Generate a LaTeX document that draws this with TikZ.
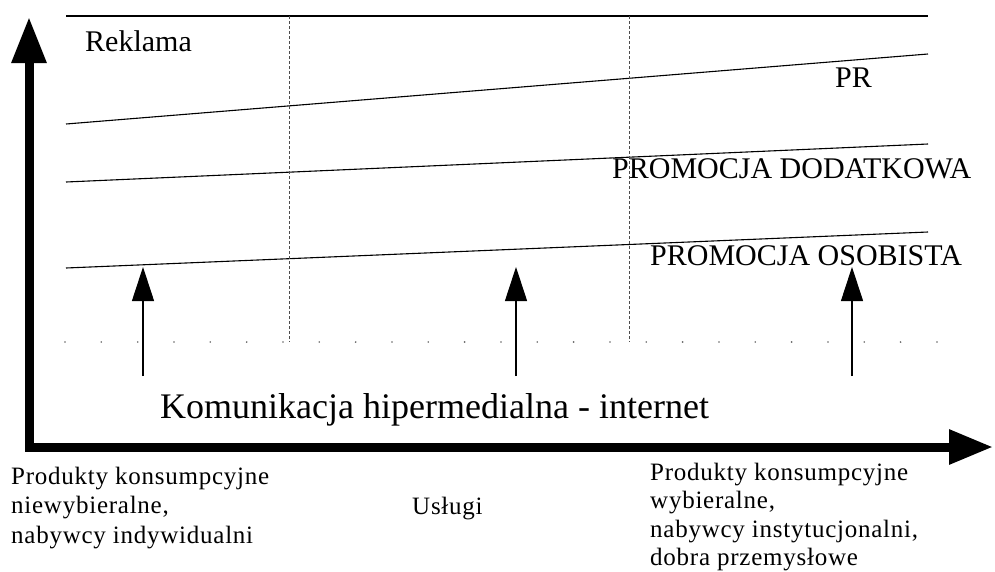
\documentclass[tikz,border=0pt]{standalone}
\usepackage{fontspec}
\setmainfont{Liberation Serif}
\newfontfamily\spacedfont{Liberation Serif}[LetterSpace=3]
\usetikzlibrary{arrows.meta}
\newcommand{\labellines}[1]{\begin{tabular}[t]{@{}l@{}}#1\end{tabular}}
\begin{document}
\begin{tikzpicture}[x=1pt,y=-1pt,
  axis/.style={line width=9pt,line join=miter,
    {Triangle[length=46pt,width=33pt]}-{Triangle[length=44pt,width=33pt]}},
  band/.style={line width=1.1pt},
  divider/.style={line width=1pt,black!70,dash pattern=on 3pt off 2pt},
  channel/.style={line width=1.1pt,-{Triangle[length=34pt,width=22pt]}},
  tool/.style={font=\fontsize{30}{30}\selectfont,inner sep=0pt,anchor=base west},
  axislabel/.style={font=\spacedfont\fontsize{25}{29.5}\selectfont,inner sep=0pt,
    anchor=base west}]
\useasboundingbox (0,0) rectangle (995,571);

% axes
\coordinate (ytip) at (29,17);
\coordinate (origin) at (29,447);
\coordinate (xtip) at (993,447);
\draw[axis] (ytip) -- (origin) -- (xtip);

% band boundaries
\coordinate (t0l) at (66,16);  \coordinate (t0r) at (928,16);
\coordinate (t1l) at (66,124); \coordinate (t1r) at (928,54);
\coordinate (t2l) at (66,182); \coordinate (t2r) at (928,144);
\coordinate (t3l) at (66,268); \coordinate (t3r) at (928,232);
\draw[band] (t0l) -- (t0r);
\draw[band] (t1l) -- (t1r);
\draw[band] (t2l) -- (t2r);
\draw[band] (t3l) -- (t3r);

% segment dividers
\coordinate (d1t) at (289,16);  \coordinate (d1b) at (289,342);
\coordinate (d2t) at (629,16);  \coordinate (d2b) at (629,342);
\draw[divider] (d1t) -- (d1b);
\draw[divider] (d2t) -- (d2b);

% dotted row
\foreach \i in {0,...,24}
  \fill[black!60] (65+36.33*\i,342) circle (0.9pt);

% internet channels
\coordinate (a1b) at (143,376); \coordinate (a1t) at (143,267);
\coordinate (a2b) at (516,376); \coordinate (a2t) at (516,267);
\coordinate (a3b) at (852,376); \coordinate (a3t) at (852,267);
\draw[channel] (a1b) -- (a1t);
\draw[channel] (a2b) -- (a2t);
\draw[channel] (a3b) -- (a3t);

% tool labels
\node[tool] (reklama) at (85,51) {Reklama};
\node[tool] (pr) at (835,87) {PR};
\node[tool] (dodatkowa) at (612,178) {PROMOCJA DODATKOWA};
\node[tool] (osobista) at (650,265) {PROMOCJA OSOBISTA};
\node[inner sep=0pt,anchor=base west,font=\fontsize{36}{36}\selectfont]
  (internet) at (160,418) {Komunikacja hipermedialna - internet};

% axis labels
\node[axislabel] (left) at (11,484)
  {\labellines{Produkty konsumpcyjne\\niewybieralne,\\nabywcy indywidualni}};
\node[axislabel] (mid) at (412,514) {Usługi};
\node[axislabel,font=\spacedfont\fontsize{25}{28.5}\selectfont] (right) at (650,480)
  {\labellines{Produkty konsumpcyjne\\wybieralne,\\nabywcy instytucjonalni,\\dobra przemysłowe}};
\end{tikzpicture}
\end{document}
